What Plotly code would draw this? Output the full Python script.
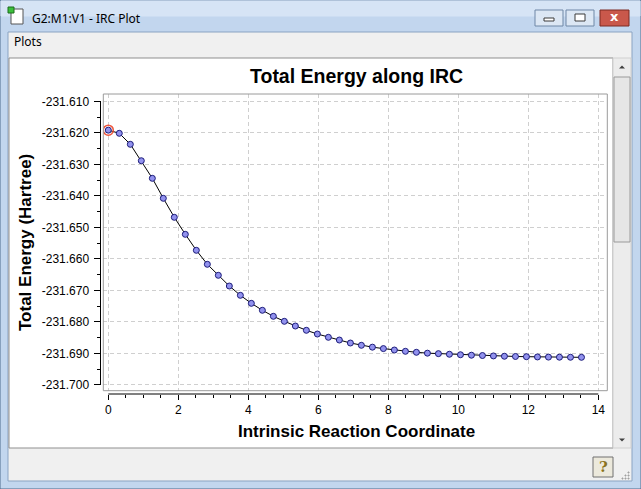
"""IRC plot window (GaussView style) redrawn with Plotly."""
import plotly.graph_objects as go

W, H = 641, 489

# Intrinsic reaction coordinate (amu^1/2 Bohr) and total energy (Hartree)
irc_x = [0.000, 0.314, 0.629, 0.943, 1.258, 1.572, 1.886, 2.201, 2.515, 2.830,
         3.144, 3.458, 3.773, 4.087, 4.402, 4.716, 5.030, 5.345, 5.659, 5.974,
         6.288, 6.602, 6.917, 7.231, 7.546, 7.860, 8.174, 8.489, 8.803, 9.118,
         9.432, 9.746, 10.061, 10.375, 10.690, 11.004, 11.318, 11.633, 11.947,
         12.262, 12.576, 12.890, 13.205, 13.519]
energy = [-231.61915, -231.62015, -231.62364, -231.62885, -231.63443,
          -231.64077, -231.64680, -231.65220, -231.65727, -231.66171,
          -231.66520, -231.66860, -231.67155, -231.67409, -231.67630,
          -231.67821, -231.67980, -231.68129, -231.68265, -231.68383,
          -231.68487, -231.68573, -231.68668, -231.68741, -231.68800,
          -231.68845, -231.68890, -231.68931, -231.68963, -231.68990,
          -231.69005, -231.69025, -231.69040, -231.69055, -231.69065,
          -231.69078, -231.69088, -231.69095, -231.69102, -231.69110,
          -231.69115, -231.69118, -231.69120, -231.69122]
current_point = 0  # highlighted (red ring) point

x_ticks = [0, 2, 4, 6, 8, 10, 12, 14]
y_ticks = [-231.610, -231.620, -231.630, -231.640, -231.650,
           -231.660, -231.670, -231.680, -231.690, -231.700]
y_tick_text = [f"{v:.3f}" for v in y_ticks]

TITLE = "Total Energy along IRC"
X_TITLE = "Intrinsic Reaction Coordinate"
Y_TITLE = "Total Energy (Hartree)"
WINDOW_TITLE = "G2:M1:V1 - IRC Plot"


def px(x):
    return x / W


def py(y):
    return 1 - y / H


def rect(x0, y0, x1, y1, fill, line=None, width=1, **kw):
    return dict(type="rect", xref="paper", yref="paper",
                x0=px(x0), x1=px(x1), y0=py(y1), y1=py(y0),
                fillcolor=fill, line=dict(color=line or fill, width=width),
                layer="below", **kw)


def tri(cx, cy, up, color="#404040"):
    s = 3
    if up:
        path = f"M {px(cx - s)} {py(cy + 1.5)} L {px(cx + s)} {py(cy + 1.5)} L {px(cx)} {py(cy - 1.5)} Z"
    else:
        path = f"M {px(cx - s)} {py(cy - 1.5)} L {px(cx + s)} {py(cy - 1.5)} L {px(cx)} {py(cy + 1.5)} Z"
    return dict(type="path", xref="paper", yref="paper", path=path,
                fillcolor=color, line=dict(width=0))


shapes = [
    # window frame + title bar
    rect(0, 0, 641, 489, "#c2d6ee", line="#4d6a8c"),
    rect(1, 1, 640, 16, "#d6e4f5"),
    # client area
    rect(8, 32, 632, 481, "#f0f0f0", line="#8aa3c2"),
    # chart panel
    rect(9, 58, 613, 448, "#ffffff", line="#8f8f8f"),
    # scrollbar
    rect(613, 58, 631, 448, "#ececec", line="#d0d0d0"),
    rect(614, 77, 630, 242, "#e6e6e6", line="#9a9a9a"),
    tri(622, 67, True),
    tri(622, 440, False),
    # title bar buttons
    rect(535, 10, 563, 26, "#dce7f4", line="#6f87a6"),
    rect(566, 10, 594, 26, "#dce7f4", line="#6f87a6"),
    rect(600, 10, 629, 26, "#c9584b", line="#7d2a22"),
    rect(544, 18, 554, 21, "#ffffff", line="#3b3b3b"),
    rect(575, 14, 585, 21, "#ffffff", line="#3b3b3b"),
    # window icon
    rect(11, 9, 23, 24, "#ffffff", line="#555555"),
    rect(8, 7, 14, 13, "#3bbf3b", line="#1d6d1d"),
    # help button
    rect(593, 457, 613, 477, "#ece9dc", line="#707070"),
]

# dotted grip in bottom-right corner
for gx, gy in [(628, 478), (625, 478), (622, 478), (628, 475), (625, 475), (628, 472)]:
    shapes.append(rect(gx, gy, gx + 1, gy + 1, "#a0a0a0"))

# axis lines drawn only across the tick span, as the original does
shapes.append(dict(type="line", xref="x", yref="paper",
                   x0=x_ticks[0], x1=x_ticks[-1], y0=py(394), y1=py(394),
                   line=dict(color="black", width=1)))
shapes.append(dict(type="line", xref="paper", yref="y",
                   x0=px(100.5), x1=px(100.5), y0=y_ticks[0], y1=y_ticks[-1],
                   line=dict(color="black", width=1)))
# plot box outline
shapes.append(dict(type="rect", xref="x domain", yref="y domain",
                   x0=0, x1=1, y0=0, y1=1,
                   line=dict(color="#9a9a9a", width=1)))

annotations = [
    dict(text=WINDOW_TITLE, x=px(30), y=py(18), xanchor="left", yanchor="middle",
         font=dict(family="Noto Sans", size=12, color="#000000")),
    dict(text="Plots", x=px(12), y=py(41), xanchor="left", yanchor="middle",
         font=dict(family="Noto Sans", size=12, color="#000000")),
    dict(text="<b>x</b>", x=px(614.5), y=py(17), xanchor="center", yanchor="middle",
         font=dict(family="DejaVu Sans", size=13, color="#ffffff")),
    dict(text="<b>?</b>", x=px(603), y=py(467), xanchor="center", yanchor="middle",
         font=dict(family="DejaVu Serif", size=15, color="#8a7320")),
    dict(text=f"<b>{TITLE}</b>", x=px(356), y=py(76), xanchor="center", yanchor="middle",
         font=dict(family="Liberation Sans", size=19.5, color="#000000")),
    dict(text=f"<b>{X_TITLE}</b>", x=px(356.5), y=py(431.5), xanchor="center", yanchor="middle",
         font=dict(family="Liberation Sans", size=17, color="#000000")),
    dict(text=f"<b>{Y_TITLE}</b>", x=px(25.5), y=py(242.5), xanchor="center", yanchor="middle",
         textangle=-90,
         font=dict(family="Liberation Sans", size=17, color="#000000")),
]
for a in annotations:
    a.update(xref="paper", yref="paper", showarrow=False)

fig = go.Figure()
fig.add_trace(go.Scatter(
    x=irc_x, y=energy, mode="lines+markers",
    line=dict(color="black", width=1),
    marker=dict(symbol="circle", size=6, color="#9292ee",
                line=dict(color="#1c1c7a", width=1)),
    hoverinfo="x+y",
))
fig.add_trace(go.Scatter(
    x=[irc_x[current_point]], y=[energy[current_point]], mode="markers",
    marker=dict(symbol="circle-open", size=10,
                line=dict(color="#cc2020", width=1.5)),
    hoverinfo="skip",
))

grid = dict(showgrid=True, gridcolor="#cfcfcf", griddash="4px,3px", gridwidth=1)
tickfont = dict(family="Liberation Sans", size=12, color="#000000")

fig.update_layout(
    width=W, height=H, autosize=False,
    margin=dict(l=0, r=0, t=0, b=0),
    paper_bgcolor="#c2d6ee",
    plot_bgcolor="#fffff4",
    showlegend=False,
    shapes=shapes,
    annotations=annotations,
    xaxis=dict(
        domain=[px(103.3), px(607.3)],
        anchor="free", position=py(394),
        range=[-0.143, 14.257],
        tickvals=x_ticks, ticktext=[str(v) for v in x_ticks],
        ticks="outside", ticklen=5, tickcolor="black",
        minor=dict(dtick=0.5, tick0=0, ticks="outside", ticklen=3,
                   tickcolor="black", showgrid=False),
        showline=False, zeroline=False, tickfont=tickfont, **grid,
    ),
    yaxis=dict(
        domain=[py(390.7), py(94)],
        anchor="free", position=px(100.5),
        range=[-231.70181, -231.60768],
        tickvals=y_ticks, ticktext=y_tick_text,
        ticks="outside", ticklen=7, tickcolor="black", ticklabelstandoff=2,
        minor=dict(dtick=0.005, tick0=-231.61, ticks="outside", ticklen=4,
                   tickcolor="black", showgrid=False),
        showline=False, zeroline=False, tickfont=tickfont, **grid,
    ),
)

# the page's default body margin would shift the window by 8px
fig.write_html("out.html", config={"displayModeBar": False},
               post_script="document.body.style.margin='0';"
                           "document.body.style.overflow='hidden';")
